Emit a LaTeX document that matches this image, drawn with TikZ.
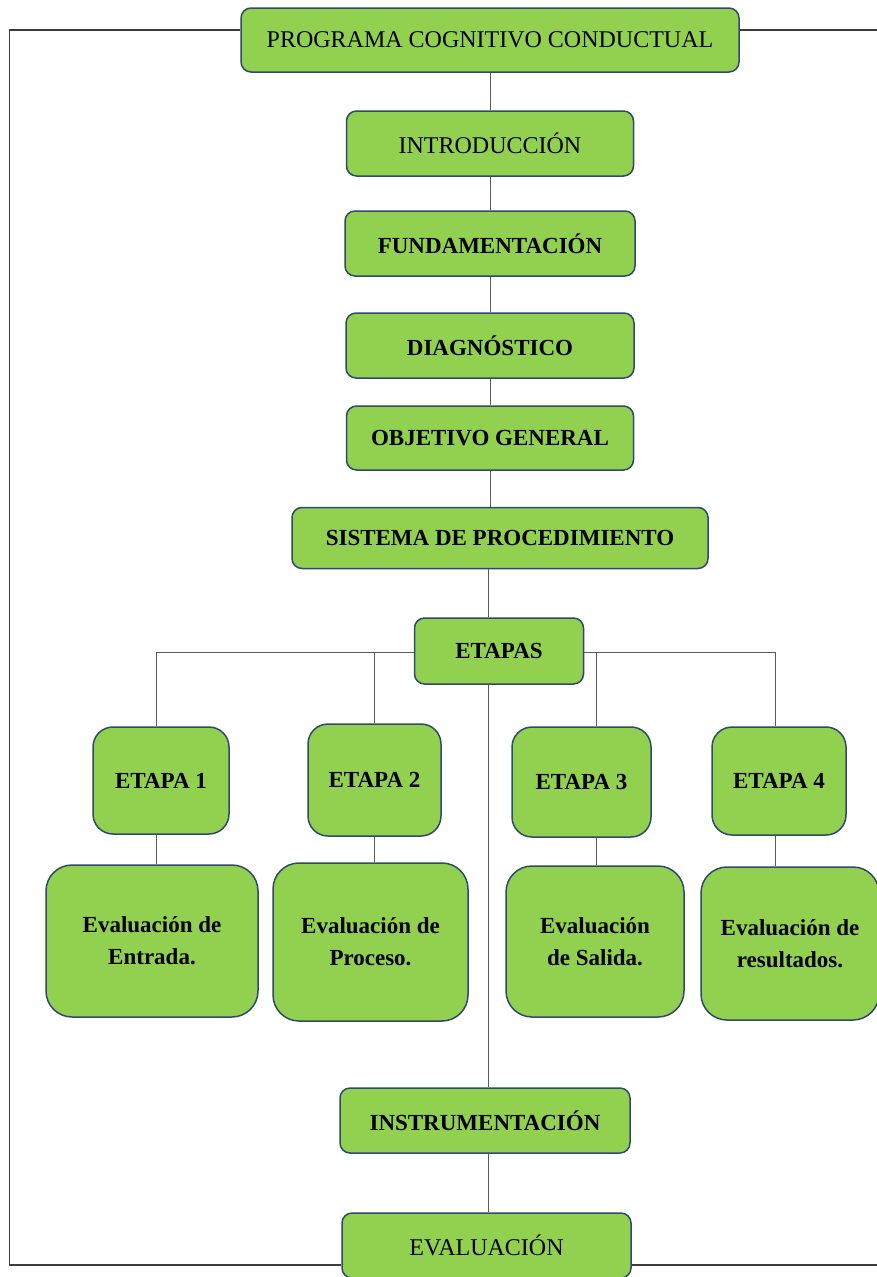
\documentclass[tikz,border=0pt]{standalone}
\usepackage{fontspec}
\setmainfont{Liberation Serif}
\usepackage{tikz}

\definecolor{boxgreen}{HTML}{92D050}
\definecolor{boxline}{HTML}{2F4A6C}
\definecolor{linkgray}{HTML}{5A5A5A}
\definecolor{framegray}{HTML}{3C3C3C}

\begin{document}
\begin{tikzpicture}[x=1pt, y=-1pt,
    box/.style={rectangle, rounded corners=10pt, draw=boxline, line width=1.5pt,
        fill=boxgreen, align=center, inner sep=0pt,
        font=\fontsize{24}{30}\selectfont},
    boldbox/.style={box, font=\fontsize{23}{30}\selectfont\bfseries},
    etapabox/.style={boldbox, rounded corners=20pt},
    evalbox/.style={boldbox, rounded corners=26pt, font=\fontsize{23}{32}\selectfont\bfseries},
    link/.style={draw=linkgray, line width=1pt},
    frame/.style={draw=framegray, line width=1.8pt}]
    \useasboundingbox (0,0) rectangle (877,1277);

    \node[box, minimum width=498pt, minimum height=64pt] (prog) at (490,40) {PROGRAMA COGNITIVO CONDUCTUAL};
    \node[box, minimum width=287pt, minimum height=65pt] (intro) at (490,143.5) {INTRODUCCIÓN};
    \node[boldbox, minimum width=290pt, minimum height=65pt] (fund) at (490,243.5) {FUNDAMENTACIÓN};
    \node[boldbox, minimum width=288pt, minimum height=65pt] (diag) at (490,345.5) {DIAGNÓSTICO};
    \node[boldbox, minimum width=287pt, minimum height=64pt] (obj) at (490,438) {OBJETIVO GENERAL};
    \node[boldbox, minimum width=416pt, minimum height=61pt] (sist) at (500,538) {SISTEMA DE PROCEDIMIENTO};
    \node[boldbox, minimum width=169pt, minimum height=66pt] (etapas) at (499,651) {ETAPAS};

    \node[etapabox, minimum width=136pt, minimum height=107pt] (e1) at (161,780.5) {ETAPA 1};
    \node[etapabox, minimum width=133pt, minimum height=112pt] (e2) at (374.5,780) {ETAPA 2};
    \node[etapabox, minimum width=139pt, minimum height=110pt] (e3) at (581.5,782) {ETAPA 3};
    \node[etapabox, minimum width=134pt, minimum height=108pt] (e4) at (779,781) {ETAPA 4};

    \node[evalbox, minimum width=212pt, minimum height=152pt] (ev1) at (152,941) {Evaluación de\\Entrada.};
    \node[evalbox, minimum width=195pt, minimum height=158pt] (ev2) at (370.5,942) {Evaluación de\\Proceso.};
    \node[evalbox, minimum width=178pt, minimum height=151pt] (ev3) at (595,941.5) {Evaluación\\de Salida.};
    \node[evalbox, minimum width=178pt, minimum height=153pt] (ev4) at (790,943.5) {Evaluación de\\resultados.};

    \node[boldbox, minimum width=290pt, minimum height=65pt] (instr) at (485,1120.5) {INSTRUMENTACIÓN};
    \node[box, minimum width=289pt, minimum height=65pt] (eval) at (486.5,1245.5) {EVALUACIÓN};

    \coordinate (spine) at (488,0);
    \coordinate (b1) at (156,652);
    \coordinate (b2) at (374,652);
    \coordinate (b3) at (596,652);
    \coordinate (b4) at (775,652);

    \draw[link] (prog) -- (intro) -- (fund) -- (diag) -- (obj);
    \draw[link] (obj.south) -- (obj.south |- sist.north);
    \draw[link] (spine |- sist.south) -- (spine |- etapas.north);
    \draw[link] (spine |- etapas.south) -- (spine |- instr.north);
    \draw[link] (spine |- instr.south) -- (spine |- eval.north);
    \draw[link] (b1) -- (b1 -| etapas.west);
    \draw[link] (b4) -- (b4 -| etapas.east);
    \foreach \i in {1,...,4} {
        \draw[link] (b\i) -- (b\i |- e\i.north);
        \draw[link] (b\i |- e\i.south) -- (b\i |- ev\i.north);
    }

    \draw[frame] (prog.west |- 0,30) -- (9.5,30) -- (9.5,1265) -- (eval.west |- 0,1265);
    \draw[frame] (prog.east |- 0,30) -- (877,30);
    \draw[frame] (eval.east |- 0,1265) -- (877,1265);
\end{tikzpicture}
\end{document}
